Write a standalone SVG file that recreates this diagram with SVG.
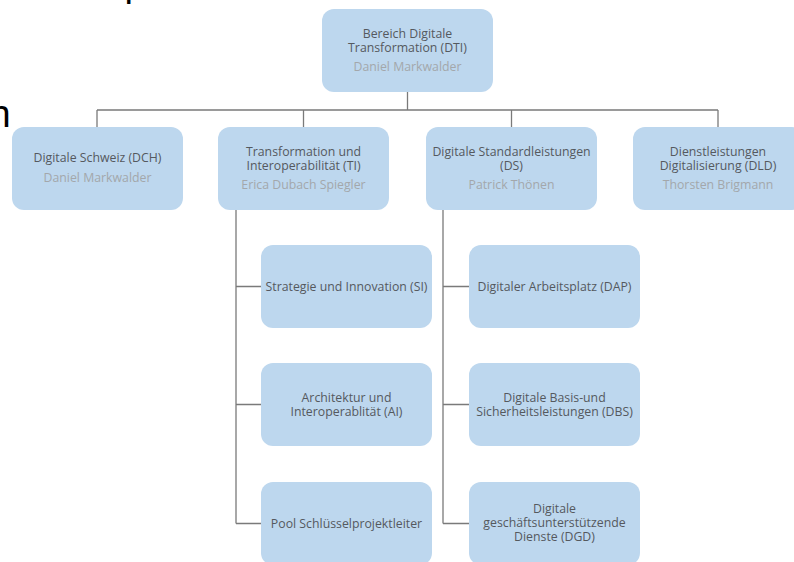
<svg xmlns="http://www.w3.org/2000/svg" width="794" height="562" viewBox="0 0 794 562">
<style>
  .box { fill: #BDD7EE; }
  .t { font-family: "Open Sans", "Noto Sans", "DejaVu Sans", sans-serif; font-size: 12.3px; fill: #55595e; text-anchor: middle; }
  .n { font-family: "Open Sans", "Noto Sans", "DejaVu Sans", sans-serif; font-size: 12.3px; fill: #a3a7ab; text-anchor: middle; }
  .frag { font-family: "Liberation Sans", Arial, sans-serif; font-size: 38px; fill: #000000; }
  .conn { fill: none; stroke: #7a7a7a; stroke-width: 1.3; }
</style>
<rect x="0" y="0" width="794" height="562" fill="#ffffff"/>
<text class="frag" x="124.5" y="-4">p</text>
<text class="frag" x="-10.6" y="127">n</text>
<g id="connectors">
  <path class="conn" d="M407.5 92 V110 M97 110 H718 M97 110 V127 M303.5 110 V127 M511.5 110 V127 M718 110 V127"/>
  <path class="conn" d="M236 210 V523.5 M236 286.5 H261 M236 404.5 H261 M236 523.5 H261"/>
  <path class="conn" d="M443 210 V523.5 M443 286.5 H469 M443 404.5 H469 M443 523.5 H469"/>
</g>
<g id="dti">
  <rect class="box" x="322" y="9" width="171" height="83" rx="12"/>
  <text class="t" x="407.5" y="37.5">Bereich Digitale</text>
  <text class="t" x="407.5" y="51.5">Transformation  (DTI)</text>
  <text class="n" x="407.5" y="71">Daniel Markwalder</text>
</g>
<g id="dch">
  <rect class="box" x="12" y="127" width="171" height="83" rx="12"/>
  <text class="t" x="97.5" y="162">Digitale Schweiz (DCH)</text>
  <text class="n" x="97.5" y="182">Daniel Markwalder</text>
</g>
<g id="ti">
  <rect class="box" x="218" y="127" width="171" height="83" rx="12"/>
  <text class="t" x="303.5" y="155.5">Transformation und</text>
  <text class="t" x="303.5" y="170">Interoperabilität (TI)</text>
  <text class="n" x="303.5" y="189">Erica Dubach Spiegler</text>
</g>
<g id="ds">
  <rect class="box" x="426" y="127" width="171" height="83" rx="12"/>
  <text class="t" x="511.5" y="155.5">Digitale Standardleistungen</text>
  <text class="t" x="511.5" y="170">(DS)</text>
  <text class="n" x="511.5" y="189">Patrick Thönen</text>
</g>
<g id="dld">
  <rect class="box" x="633" y="127" width="171" height="83" rx="12"/>
  <text class="t" x="718" y="155.5">Dienstleistungen</text>
  <text class="t" x="718" y="170">Digitalisierung (DLD)</text>
  <text class="n" x="718" y="189">Thorsten Brigmann</text>
</g>
<g id="si">
  <rect class="box" x="261" y="245" width="171" height="83" rx="12"/>
  <text class="t" x="346.5" y="290.5">Strategie und Innovation (SI)</text>
</g>
<g id="ai">
  <rect class="box" x="261" y="363" width="171" height="83" rx="12"/>
  <text class="t" x="346.5" y="401.5">Architektur und</text>
  <text class="t" x="346.5" y="415.5">Interoperablität (AI)</text>
</g>
<g id="pool">
  <rect class="box" x="261" y="482" width="171" height="83" rx="12"/>
  <text class="t" x="346.5" y="527.5">Pool Schlüsselprojektleiter</text>
</g>
<g id="dap">
  <rect class="box" x="469" y="245" width="171" height="83" rx="12"/>
  <text class="t" x="554.5" y="290.5">Digitaler Arbeitsplatz (DAP)</text>
</g>
<g id="dbs">
  <rect class="box" x="469" y="363" width="171" height="83" rx="12"/>
  <text class="t" x="554.5" y="401.5">Digitale Basis-und</text>
  <text class="t" x="554.5" y="415.5">Sicherheitsleistungen (DBS)</text>
</g>
<g id="dgd">
  <rect class="box" x="469" y="482" width="171" height="83" rx="12"/>
  <text class="t" x="554.5" y="512.5">Digitale</text>
  <text class="t" x="554.5" y="526.5">geschäftsunterstützende</text>
  <text class="t" x="554.5" y="540.5">Dienste (DGD)</text>
</g>
</svg>
